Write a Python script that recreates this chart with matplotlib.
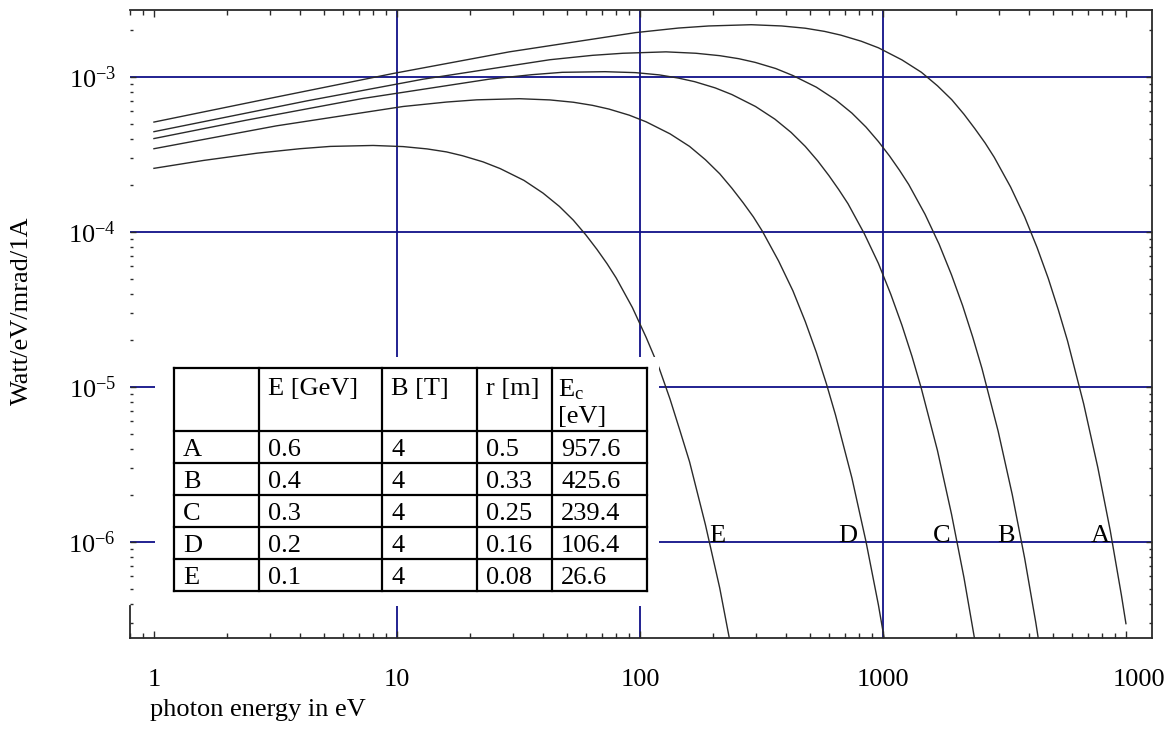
import numpy as np
import matplotlib
matplotlib.use("Agg")
import matplotlib.pyplot as plt
from matplotlib.patches import Rectangle
from matplotlib.ticker import LogLocator, NullFormatter
from matplotlib.transforms import Bbox, TransformedBbox, ScaledTranslation

plt.rcParams["font.family"] = ["Liberation Serif", "DejaVu Serif"]
plt.rcParams["mathtext.fontset"] = "custom"
plt.rcParams["mathtext.rm"] = "Liberation Serif"
plt.rcParams["mathtext.it"] = "Liberation Serif:italic"

# spectra (photon energy in eV, Watt/eV/mrad/1A)
energy_A = [1, 2.9, 9.6, 29, 96, 144, 192, 287, 383, 479, 575, 670, 814, 958,
            1197, 1440, 1676, 1920, 2155, 2390, 2633, 2870, 3352, 3830, 4309,
            4790, 5267, 5750, 6700, 7660, 8620, 9580, 10000]
power_A = [5.11e-4, 7.19e-4, 1.05e-3, 1.45e-3, 1.93e-3, 2.065e-3, 2.13e-3,
           2.17e-3, 2.13e-3, 2.06e-3, 1.965e-3, 1.86e-3, 1.698e-3, 1.54e-3,
           1.287e-3, 1.07e-3, 8.76e-4, 7.12e-4, 5.74e-4, 4.63e-4, 3.745e-4,
           3.03e-4, 1.948e-4, 1.25e-4, 7.92e-5, 5.01e-5, 3.146e-5, 1.98e-5,
           7.77e-6, 3.02e-6, 1.18e-6, 4.53e-7, 2.97e-7]

energy_B = [1, 4.26, 12.8, 42.6, 63.8, 85.1, 128, 170, 213, 255, 298, 362, 426,
            532, 638, 745, 851, 958, 1064, 1170, 1277, 1490, 1702, 1915, 2128,
            2341, 2554, 2979, 3405, 3830, 4256, 4682]
power_B = [4.43e-4, 7.00e-4, 9.66e-4, 1.29e-3, 1.377e-3, 1.42e-3, 1.45e-3,
           1.42e-3, 1.37e-3, 1.31e-3, 1.24e-3, 1.132e-3, 1.02e-3, 8.58e-4,
           7.12e-4, 5.84e-4, 4.75e-4, 3.826e-4, 3.09e-4, 2.497e-4, 2.02e-4,
           1.299e-4, 8.34e-5, 5.28e-5, 3.34e-5, 2.097e-5, 1.32e-5, 5.18e-6,
           2.02e-6, 7.84e-7, 3.02e-7, 1.16e-7]

energy_C = [1, 2.39, 7.18, 23.9, 35.9, 47.9, 71.8, 95.8, 120, 144, 168, 204,
            239, 299, 359, 419, 479, 539, 599, 658, 718, 838, 958, 1077, 1197,
            1317, 1436, 1676, 1915, 2155, 2394]
power_C = [4.00e-4, 5.25e-4, 7.24e-4, 9.66e-4, 1.033e-3, 1.07e-3, 1.08e-3,
           1.065e-3, 1.03e-3, 9.82e-4, 9.31e-4, 8.49e-4, 7.69e-4, 6.44e-4,
           5.34e-4, 4.38e-4, 3.56e-4, 2.87e-4, 2.31e-4, 1.873e-4, 1.52e-4,
           9.74e-5, 6.26e-5, 3.96e-5, 2.50e-5, 1.573e-5, 9.88e-6, 3.89e-6,
           1.51e-6, 5.88e-7, 2.27e-7]

energy_D = [1, 3.19, 10.6, 16.0, 21.3, 31.9, 42.6, 53.2, 63.8, 74.5, 90.4, 106,
            133, 160, 186, 213, 239, 266, 293, 319, 372, 426, 479, 532, 585,
            638, 745, 851, 958, 1064]
power_D = [3.44e-4, 4.83e-4, 6.44e-4, 6.88e-4, 7.11e-4, 7.23e-4, 7.10e-4,
           6.86e-4, 6.55e-4, 6.20e-4, 5.66e-4, 5.13e-4, 4.29e-4, 3.56e-4,
           2.92e-4, 2.37e-4, 1.913e-4, 1.54e-4, 1.249e-4, 1.01e-4, 6.49e-5,
           4.17e-5, 2.64e-5, 1.67e-5, 1.049e-5, 6.59e-6, 2.59e-6, 1.01e-6,
           3.92e-7, 1.51e-7]

energy_E = [1, 1.6, 2.66, 3.99, 5.32, 7.98, 10.6, 13.3, 16.0, 18.6, 22.6, 26.6,
            33.3, 39.9, 46.6, 53.2, 59.9, 66.5, 73.2, 79.8, 93.1, 106, 120, 133,
            146, 160, 186, 213, 239]
power_E = [2.57e-4, 2.89e-4, 3.22e-4, 3.44e-4, 3.56e-4, 3.61e-4, 3.55e-4,
           3.43e-4, 3.28e-4, 3.10e-4, 2.83e-4, 2.56e-4, 2.15e-4, 1.78e-4,
           1.46e-4, 1.19e-4, 9.56e-5, 7.72e-5, 6.24e-5, 5.05e-5, 3.25e-5,
           2.09e-5, 1.32e-5, 8.34e-6, 5.24e-6, 3.29e-6, 1.29e-6, 5.04e-7, 1.96e-7]

curve_names = ["A", "B", "C", "D", "E"]
label_energy = [8600, 3490, 1890, 781, 224]   # right edge of each letter
label_level = 1e-6

# table contents
beam_energy = ["0.6", "0.4", "0.3", "0.2", "0.1"]
field = ["4", "4", "4", "4", "4"]
radius = ["0.5", "0.33", "0.25", "0.16", "0.08"]
critical_energy = ["957.6", "425.6", "239.4", "106.4", "26.6"]
headers = ["", "E [GeV]", "B [T]", "r [m]"]

x_ticks = [1, 10, 100, 1000, 10000]
x_tick_labels = ["1", "10", "100", "1000", "10000"]
y_ticks = [1e-6, 1e-5, 1e-4, 1e-3]
y_tick_labels = [r"$\mathregular{10^{-6}}$", r"$\mathregular{10^{-5}}$",
                 r"$\mathregular{10^{-4}}$", r"$\mathregular{10^{-3}}$"]
x_grid = [10, 100, 1000]
y_grid = [1e-6, 1e-5, 1e-4, 1e-3]

W, H = 1172, 731
GRID = "#101088"
INK = "#2a2a2a"
FS = 19

fig = plt.figure(figsize=(W / 100, H / 100), dpi=100)
ax = fig.add_axes([130 / W, 93 / H, 1022 / W, 628 / H])
ax.set_xscale("log")
ax.set_yscale("log")
ax.set_xlim(0.797, 12800)
ax.set_ylim(2.4e-7, 2.7e-3)

for v in x_grid:
    ax.axvline(v, color=GRID, lw=1.3, zorder=1)
for v in y_grid:
    ax.axhline(v, color=GRID, lw=1.3, zorder=1)

for e, p in [(energy_A, power_A), (energy_B, power_B), (energy_C, power_C),
             (energy_D, power_D), (energy_E, power_E)]:
    ax.plot(e, p, color=INK, lw=1.0, zorder=3)

for name, xe in zip(curve_names, label_energy):
    ax.text(xe, label_level, name, ha="right", va="baseline", fontsize=FS, zorder=4)

ax.set_xticks(x_ticks)
ax.set_xticklabels(x_tick_labels)
ax.xaxis.set_minor_locator(LogLocator(base=10, subs=np.arange(2, 10), numticks=30))
ax.xaxis.set_minor_formatter(NullFormatter())
ax.set_yticks(y_ticks)
ax.set_yticklabels(y_tick_labels)
ax.yaxis.set_minor_locator(LogLocator(base=10, subs=np.arange(2, 10), numticks=30))
ax.yaxis.set_minor_formatter(NullFormatter())

ax.tick_params(which="both", direction="in", top=True, right=True,
               color=INK, width=1.0, labelcolor="black")
ax.tick_params(axis="x", which="major", length=5, pad=22, labelsize=FS)
ax.tick_params(axis="x", which="minor", length=3.5)
ax.tick_params(axis="y", which="major", length=4, pad=10, labelsize=FS)
ax.tick_params(axis="y", which="minor", length=2.5)

for s in ax.spines.values():
    s.set_color(INK)
    s.set_linewidth(1.3)
ax.spines["left"].set_bounds(2.4e-7, 3.86e-7)

# last x label is cut at the right edge in the original
last = ax.get_xticklabels()[-1]
last.set_ha("left")
last.set_transform(last.get_transform() + ScaledTranslation(-13 / 100, 0, fig.dpi_scale_trans))
last.set_clip_box(TransformedBbox(Bbox([[0, 0], [1165 / W, 1]]), fig.transFigure))
last.set_clip_on(True)

ax.set_xlabel("photon energy in eV", fontsize=FS, ha="left", va="baseline")
ax.xaxis.set_label_coords((150 - 130) / 1022, (638 - 716) / 628)
ax.set_ylabel("Watt/eV/mrad/1A", fontsize=FS, va="center")
ax.yaxis.set_label_coords((22 - 130) / 1022, (638 - 311) / 628)

# overlay in pixel units for the parameter table
ov = fig.add_axes([0, 0, 1, 1], zorder=5)
ov.set_xlim(0, W)
ov.set_ylim(H, 0)
ov.axis("off")
ov.add_patch(Rectangle((155, 357), 504, 249, facecolor="white", edgecolor="none"))

col_edges = [174, 259, 382, 477, 552, 647]
row_edges = [368, 431, 463, 495, 527, 559, 591]
for x in col_edges:
    ov.plot([x, x], [row_edges[0], row_edges[-1]], color="black", lw=1.6,
            solid_capstyle="projecting")
for y in row_edges:
    ov.plot([col_edges[0], col_edges[-1]], [y, y], color="black", lw=1.6,
            solid_capstyle="projecting")

for j, h in enumerate(headers):
    ov.text(col_edges[j] + 9, 395, h, fontsize=FS, va="baseline", ha="left")
ov.text(col_edges[4] + 6, 396, r"E$_{\mathregular{c}}$", fontsize=FS, va="baseline", ha="left")
ov.text(col_edges[4] + 6, 423, "[eV]", fontsize=FS, va="baseline", ha="left")

for i, row in enumerate(zip(curve_names, beam_energy, field, radius, critical_energy)):
    yb = row_edges[i + 2] - 7
    for j, cell in enumerate(row):
        ov.text(col_edges[j] + 9, yb, cell, fontsize=FS, va="baseline", ha="left")

fig.savefig("out.png", dpi=100)
